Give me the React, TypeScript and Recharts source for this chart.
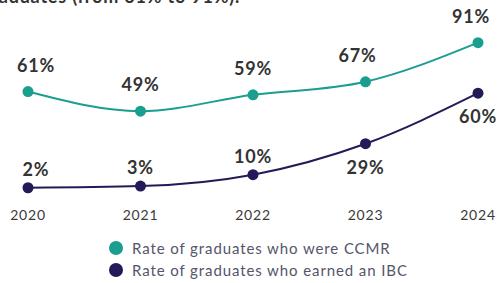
import React from 'react';
import { LineChart, Line, XAxis, YAxis, LabelList } from 'recharts';

const years = ['2020', '2021', '2022', '2023', '2024'];
const ccmrRate = [61, 49, 59, 67, 91];
const ibcRate = [2, 3, 10, 29, 60];
// where each IBC label sits relative to its point
const ibcLabelSide = ['above', 'above', 'above', 'below', 'below'];

const TEAL = '#1a9e8f';
const NAVY = '#241a57';
const FONT = 'Lato, "Open Sans", sans-serif';

const data = years.map((year, i) => ({ year, ccmr: ccmrRate[i], ibc: ibcRate[i] }));

const makeLabel = (series: 'ccmr' | 'ibc') => (props: any) => {
    const { x, y, value, index } = props;
    let dy = -27;
    if (series === 'ibc') dy = ibcLabelSide[index] === 'below' ? 23 : -19;
    let tx = x;
    if (series === 'ccmr' && index === data.length - 1) tx = x - 7;
    if (series === 'ccmr' && index === 0) tx = x + 8;
    if (series === 'ccmr' && index === 3) tx = x - 8;
    if (series === 'ibc' && index === 0) tx = x + 8;
    return (
        <text x={tx} y={y + dy} textAnchor="middle" dominantBaseline="central"
            fill="#333333" fontSize={18} fontWeight={700} fontFamily={FONT} letterSpacing={0.8}>
            {value}%
        </text>
    );
};

export default function App() {
    return (
        <div style={{ position: 'fixed', top: 0, left: 0, width: 504, height: 283, overflow: 'hidden', background: '#fff', fontFamily: FONT }}>
            <svg width={504} height={12} style={{ position: 'absolute', top: 0, left: 0, zIndex: 2 }}>
                <text x={-19} y={3} fontSize={18} fontWeight={700} fill="#333" fontFamily={FONT} letterSpacing={0.8}>
                    graduates (from 61% to 91%).
                </text>
            </svg>
            <LineChart width={504} height={230} data={data} margin={{ top: 28, right: 26, bottom: 0, left: 28 }}>
                <YAxis hide domain={[0, 100]} />
                <XAxis dataKey="year" axisLine={false} tickLine={false} height={39} tickMargin={13}
                    tick={{ fill: '#3a3a3a', fontSize: 14, fontFamily: FONT, letterSpacing: 0.8 }} interval={0} />
                <Line type="monotone" dataKey="ccmr" stroke={TEAL} strokeWidth={2} isAnimationActive={false}
                    dot={{ r: 5.5, fill: TEAL, stroke: TEAL, strokeWidth: 0 }}>
                    <LabelList dataKey="ccmr" content={makeLabel('ccmr')} />
                </Line>
                <Line type="monotone" dataKey="ibc" stroke={NAVY} strokeWidth={2} isAnimationActive={false}
                    dot={{ r: 5.5, fill: NAVY, stroke: NAVY, strokeWidth: 0 }}>
                    <LabelList dataKey="ibc" content={makeLabel('ibc')} />
                </Line>
            </LineChart>
            <div style={{ position: 'absolute', left: 109, top: 237, fontSize: 15, color: '#55556a', lineHeight: '22px', letterSpacing: 0.9 }}>
                {[{ name: 'Rate of graduates who were CCMR', color: TEAL }, { name: 'Rate of graduates who earned an IBC', color: NAVY }].map(item => (
                    <div key={item.name} style={{ display: 'flex', alignItems: 'center' }}>
                        <span style={{ width: 14, height: 14, borderRadius: '50%', background: item.color, marginRight: 9, display: 'inline-block' }} />
                        {item.name}
                    </div>
                ))}
            </div>
        </div>
    );
}
